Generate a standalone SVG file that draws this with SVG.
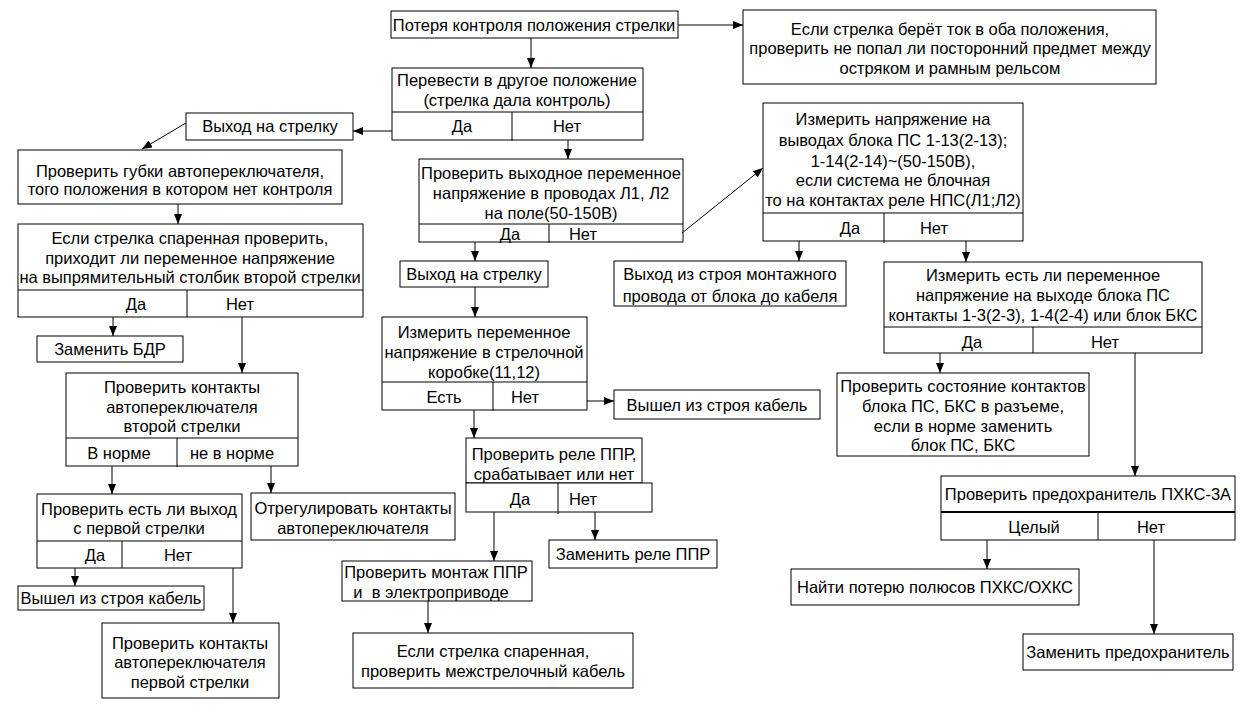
<svg xmlns="http://www.w3.org/2000/svg" width="1259" height="714" viewBox="0 0 1259 714">
<defs>
<marker id="ah" markerWidth="10" markerHeight="8" refX="10" refY="4" orient="auto" markerUnits="userSpaceOnUse"><path d="M0,0 L10,4 L0,8 z" fill="#000"/></marker>
<style>
rect{fill:#fff;stroke:#000;stroke-width:1}
.d{stroke:#000;stroke-width:1;fill:none}
text{font-family:"Liberation Sans",Arial,sans-serif;font-size:16.5px;text-anchor:middle;fill:#000}
#conn line{stroke:#000;stroke-width:1;marker-end:url(#ah)}
</style>
</defs>
<rect x="0" y="0" width="1259" height="714" style="stroke:none"/>
<g id="n1"><rect x="391" y="11" width="287" height="27"/><text x="534" y="30.5">Потеря контроля положения стрелки</text></g>
<g id="n2"><rect x="743" y="10" width="413" height="74"/><text x="950" y="34.5">Если стрелка берёт ток в оба положения,</text><text x="950" y="53.5">проверить не попал ли посторонний предмет между</text><text x="950" y="73.5">остряком и рамным рельсом</text></g>
<g id="n3"><rect x="392" y="68" width="251" height="72"/><line class="d" x1="392" y1="112" x2="643" y2="112"/><line class="d" x1="512" y1="112" x2="512" y2="141"/><text x="517" y="85.5">Перевести в другое положение</text><text x="517" y="105.5">(стрелка дала контроль)</text><text x="462" y="131.5">Да</text><text x="567" y="131.5">Нет</text></g>
<g id="n4"><rect x="186" y="113" width="167" height="27"/><text x="270" y="131.5">Выход на стрелку</text></g>
<g id="n5"><rect x="18" y="150" width="324" height="54"/><text x="180" y="176.5">Проверить губки автопереключателя,</text><text x="180" y="194.5">того положения в котором нет контроля</text></g>
<g id="n6"><rect x="18" y="224" width="345" height="93"/><line class="d" x1="18" y1="290" x2="363" y2="290"/><line class="d" x1="187" y1="290" x2="187" y2="317"/><text x="190" y="243.5">Если стрелка спаренная проверить,</text><text x="190" y="263.5">приходит ли переменное напряжение</text><text x="190" y="282.5">на выпрямительный столбик второй стрелки</text><text x="136" y="309.5">Да</text><text x="240" y="309.5">Нет</text></g>
<g id="n7"><rect x="37" y="336" width="146" height="26"/><text x="110" y="354.5">Заменить БДР</text></g>
<g id="n8"><rect x="66" y="373" width="232" height="93"/><line class="d" x1="66" y1="438" x2="298" y2="438"/><line class="d" x1="177" y1="438" x2="177" y2="467"/><text x="182" y="392.5">Проверить контакты</text><text x="182" y="412.5">автопереключателя</text><text x="182" y="431.5">второй стрелки</text><text x="119" y="458.5">В норме</text><text x="232" y="458.5">не в норме</text></g>
<g id="n9"><rect x="37" y="494" width="205" height="74"/><line class="d" x1="37" y1="541" x2="242" y2="541"/><line class="d" x1="122" y1="541" x2="122" y2="568"/><text x="139" y="514.5">Проверить есть ли выход</text><text x="139" y="533.5">с первой стрелки</text><text x="95" y="560.5">Да</text><text x="178" y="560.5">Нет</text></g>
<g id="n10"><rect x="18" y="586" width="186" height="24"/><text x="111" y="603.5">Вышел из строя кабель</text></g>
<g id="n11"><rect x="102" y="623" width="177" height="75"/><text x="190" y="648.5">Проверить контакты</text><text x="190" y="667.5">автопереключателя</text><text x="190" y="687.5">первой стрелки</text></g>
<g id="n12"><rect x="251" y="493" width="204" height="47"/><text x="353" y="513.5">Отрегулировать контакты</text><text x="353" y="533.5">автопереключателя</text></g>
<g id="n13"><rect x="419" y="159" width="264" height="83"/><line class="d" x1="419" y1="224" x2="683" y2="224"/><line class="d" x1="549" y1="224" x2="549" y2="243"/><text x="551" y="178.5">Проверить выходное переменное</text><text x="551" y="198.5">напряжение в проводах Л1, Л2</text><text x="551" y="218.5">на поле(50-150В)</text><text x="510" y="239.5">Да</text><text x="583" y="239.5">Нет</text></g>
<g id="n14"><rect x="400" y="261" width="148" height="26"/><text x="474" y="279.5">Выход на стрелку</text></g>
<g id="n15"><rect x="382" y="317" width="205" height="93"/><line class="d" x1="382" y1="382" x2="587" y2="382"/><line class="d" x1="493" y1="382" x2="493" y2="411"/><text x="484" y="337.5">Измерить переменное</text><text x="484" y="357.5">напряжение в стрелочной</text><text x="484" y="377.5">коробке(11,12)</text><text x="444" y="402.5">Есть</text><text x="525" y="402.5">Нет</text></g>
<g id="n16"><rect x="614" y="390" width="206" height="29"/><text x="717" y="410.5">Вышел из строя кабель</text></g>
<g id="n17"><rect x="466" y="438" width="176" height="45"/><rect x="466" y="483" width="186" height="29"/><line class="d" x1="558" y1="483" x2="558" y2="514"/><text x="554" y="459.5">Проверить реле ППР,</text><text x="554" y="479.5">срабатывает или нет</text><text x="520" y="504.5">Да</text><text x="583" y="504.5">Нет</text></g>
<g id="n18"><rect x="549" y="540" width="168" height="28"/><text x="633" y="559.5">Заменить реле ППР</text></g>
<g id="n19"><rect x="342" y="561" width="190" height="40"/><text x="436" y="577.5">Проверить монтаж ППР</text><text x="431" y="597.5" xml:space="preserve">и  в электроприводе</text></g>
<g id="n20"><rect x="353" y="633" width="280" height="55"/><text x="493" y="656.5">Если стрелка спаренная,</text><text x="493" y="676.5">проверить межстрелочный кабель</text></g>
<g id="n21"><rect x="763" y="103" width="260" height="138"/><line class="d" x1="763" y1="213" x2="1023" y2="213"/><line class="d" x1="884" y1="213" x2="884" y2="243"/><text x="893" y="124.5">Измерить напряжение на</text><text x="893" y="145.5">выводах блока ПС 1-13(2-13);</text><text x="893" y="166.5">1-14(2-14)~(50-150В),</text><text x="893" y="185.5">если система не блочная</text><text x="893" y="205.5">то на контактах реле НПС(Л1;Л2)</text><text x="850" y="233.5">Да</text><text x="934" y="233.5">Нет</text></g>
<g id="n22"><rect x="614" y="261" width="232" height="45"/><text x="730" y="279.5">Выход из строя монтажного</text><text x="730" y="301.5">провода от блока до кабеля</text></g>
<g id="n23"><rect x="884" y="262" width="318" height="91"/><line class="d" x1="884" y1="327" x2="1202" y2="327"/><line class="d" x1="1033" y1="327" x2="1033" y2="353"/><text x="1043" y="280.5">Измерить есть ли переменное</text><text x="1043" y="300.5">напряжение на выходе блока ПС</text><text x="1043" y="320.5">контакты 1-3(2-3), 1-4(2-4) или блок БКС</text><text x="972" y="347.5">Да</text><text x="1105" y="347.5">Нет</text></g>
<g id="n24"><rect x="837" y="373" width="252" height="83"/><text x="963" y="391.5">Проверить состояние контактов</text><text x="963" y="411.5">блока ПС, БКС в разъеме,</text><text x="963" y="431.5">если в норме заменить</text><text x="963" y="450.5">блок ПС, БКС</text></g>
<g id="n25"><rect x="941" y="476" width="294" height="64"/><line x1="941" y1="512" x2="1235" y2="512" style="stroke:#000;stroke-width:2"/><line class="d" x1="1098" y1="512" x2="1098" y2="540"/><text x="1088" y="499.5">Проверить предохранитель ПХКС-3А</text><text x="1034" y="532.5">Целый</text><text x="1151" y="532.5">Нет</text></g>
<g id="n26"><rect x="791" y="569" width="288" height="36"/><text x="935" y="592.5">Найти потерю полюсов ПХКС/ОХКС</text></g>
<g id="n27"><rect x="1023" y="634" width="210" height="36"/><text x="1128" y="657.5">Заменить предохранитель</text></g>
<g id="conn">
<line x1="678" y1="25" x2="743" y2="25"/>
<line x1="531" y1="38" x2="531" y2="68"/>
<line x1="392" y1="131" x2="353" y2="131"/>
<line x1="186" y1="123" x2="142" y2="149"/>
<line x1="178" y1="204" x2="178" y2="224"/>
<line x1="113" y1="317" x2="113" y2="336"/>
<line x1="242" y1="317" x2="242" y2="373"/>
<line x1="112" y1="466" x2="112" y2="494"/>
<line x1="271" y1="466" x2="271" y2="493"/>
<line x1="75" y1="568" x2="75" y2="586"/>
<line x1="233" y1="568" x2="233" y2="623"/>
<line x1="568" y1="140" x2="568" y2="159"/>
<line x1="682" y1="233" x2="763" y2="168"/>
<line x1="475" y1="242" x2="475" y2="261"/>
<line x1="475" y1="287" x2="475" y2="317"/>
<line x1="587" y1="401" x2="614" y2="401"/>
<line x1="474" y1="410" x2="474" y2="438"/>
<line x1="494" y1="512" x2="494" y2="561"/>
<line x1="595" y1="512" x2="595" y2="540"/>
<line x1="428" y1="601" x2="428" y2="633"/>
<line x1="799" y1="241" x2="799" y2="261"/>
<line x1="966" y1="241" x2="966" y2="262"/>
<line x1="940" y1="353" x2="940" y2="373"/>
<line x1="1135" y1="353" x2="1135" y2="476"/>
<line x1="987" y1="540" x2="987" y2="569"/>
<line x1="1154" y1="540" x2="1154" y2="634"/>
</g>
</svg>
